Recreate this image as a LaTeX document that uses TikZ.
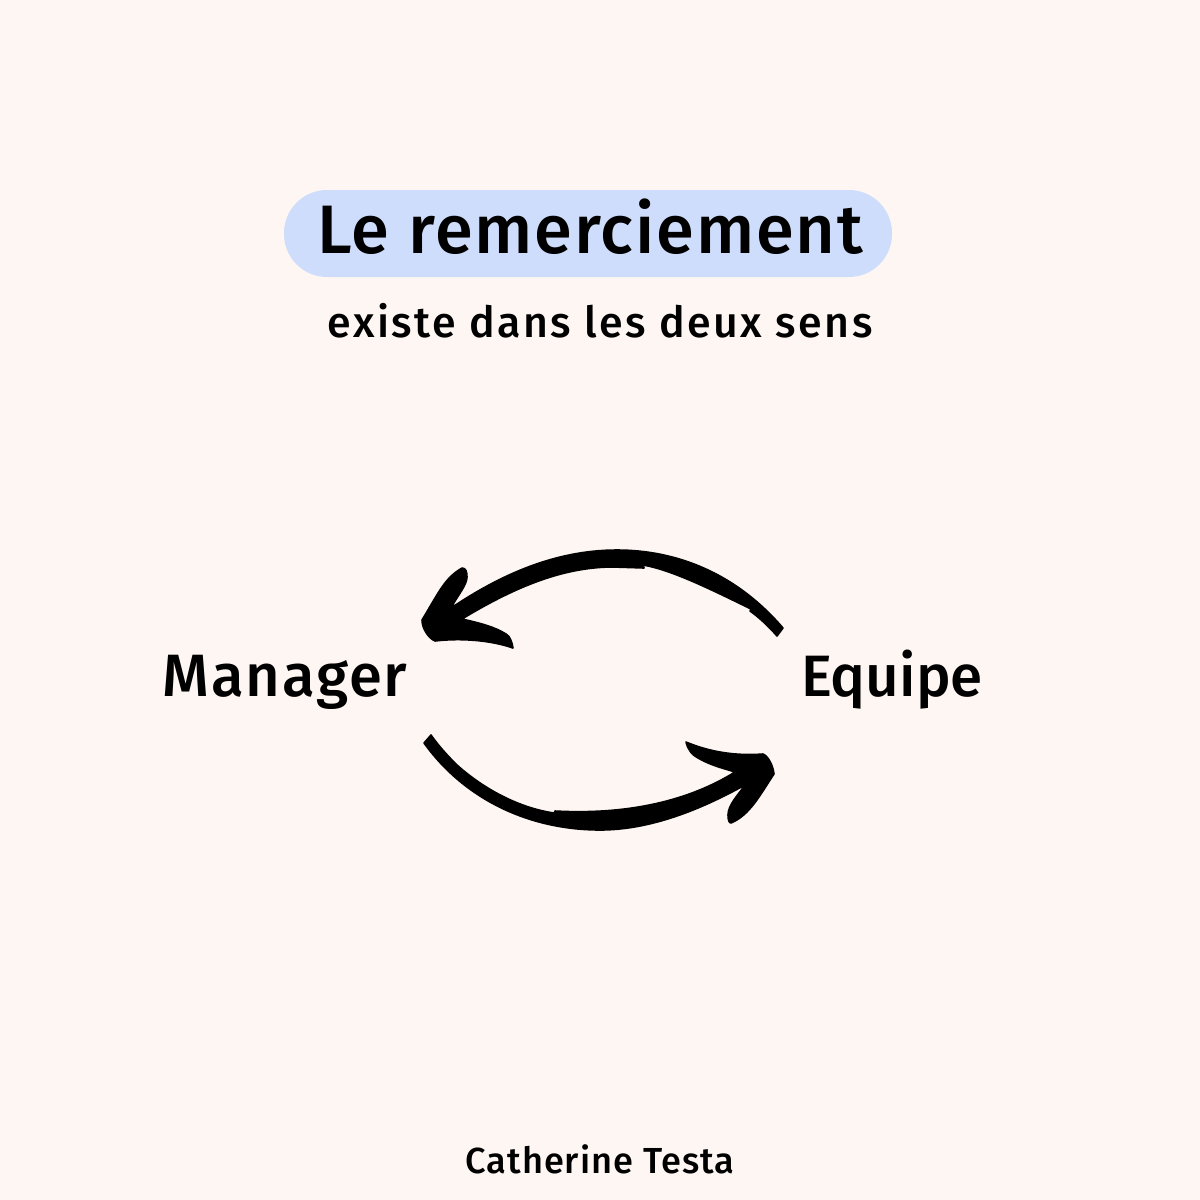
\documentclass[tikz,border=0pt]{standalone}
\usepackage{fontspec}
\setmainfont{Fira Sans}
\newfontfamily\fz{Fira Sans Medium}
\newfontfamily\fa{Fira Sans Medium}[LetterSpace=2.6]
\newfontfamily\fc{Fira Sans Medium}[LetterSpace=3.2]
\newfontfamily\fb{Fira Sans Medium}[LetterSpace=5.9]
\definecolor{bgc}{HTML}{FEF6F2}
\definecolor{pill}{HTML}{CFDDFC}
\tikzset{
  lbl/.style={text=black, inner sep=0pt, anchor=base},
  arrowshape/.style={fill=black, draw=black, line width=0.45pt, line join=round}
}
\begin{document}
\begin{tikzpicture}[x=0.01cm,y=-0.01cm]
\useasboundingbox (0,0) rectangle (1200,1200);
\fill[bgc] (0,0) rectangle (1200,1200);
\fill[pill, rounded corners=0.43cm] (284,190) rectangle (892,277);
\node[lbl] (title) at (590,253) {\fontsize{19.5}{24}\selectfont\fa Le remerciement};
\node[lbl] (sub) at (600,337) {\fontsize{12.2}{15}\selectfont\fb existe dans les deux sens};
\node[lbl] (mgr) at (285,696) {\fontsize{17}{20}\selectfont\fc Manager};
\node[lbl] (eq) at (892,696) {\fontsize{16.6}{20}\selectfont\fz Equipe};
\node[lbl] (auth) at (600,1173) {\fontsize{10.3}{13}\selectfont\fa Catherine Testa};
% top arrow (right to left)
\fill[arrowshape] (783,628)
  .. controls (735,572) and (675,550) .. (617,550)
  .. controls (555,550) and (500,575) .. (451,608)
  .. controls (458,595) and (467,585) .. (467,577)
  .. controls (467,572) and (466,568) .. (462,568)
  .. controls (445,578) and (440,590) .. (422,620)
  .. controls (422,628) and (428,638) .. (435,641)
  .. controls (460,638) and (490,640) .. (513,648)
  .. controls (512,642) and (510,636) .. (506,634)
  .. controls (495,627) and (480,623) .. (462,619)
  .. controls (510,590) and (560,567) .. (613,567)
  -- (644,568) -- (643,565)
  .. controls (672,570) and (712,590) .. (751,609)
  -- (750,611)
  .. controls (760,618) and (770,628) .. (777,636)
  -- cycle;
% bottom arrow (left to right)
\fill[arrowshape] (424,743)
  .. controls (465,800) and (530,830) .. (600,830)
  .. controls (650,830) and (700,810) .. (745,785)
  .. controls (738,795) and (728,805) .. (728,815)
  .. controls (728,820) and (729,823) .. (731,823)
  .. controls (750,815) and (760,795) .. (774,774)
  .. controls (773,765) and (768,756) .. (763,754)
  .. controls (735,756) and (710,752) .. (686,742)
  .. controls (688,750) and (692,755) .. (698,758)
  .. controls (710,765) and (722,768) .. (735,772)
  .. controls (690,800) and (630,815) .. (555,811)
  -- (554,813)
  .. controls (520,808) and (485,790) .. (457,765)
  -- (455,763)
  .. controls (447,755) and (438,745) .. (431,735)
  -- cycle;
\end{tikzpicture}
\end{document}
